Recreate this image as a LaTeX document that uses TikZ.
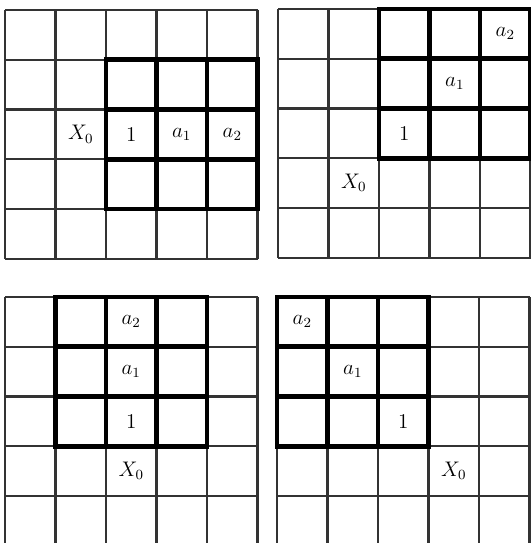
\documentclass[tikz,border=0pt]{standalone}
\begin{document}
\begin{tikzpicture}[x=1.01cm,y=-0.995cm,
			fine/.style={
				draw=black!80,
				line width=1.3pt
			},
			bold/.style={
				draw=black,
				line width=2.6pt,
				line cap=rect
			},
			lab/.style={
				font=\fontsize{12}{14}\selectfont,
				inner sep=0pt
			}
			]
			\useasboundingbox[fill=white] (0,0) rectangle (10.6cm,-10.86cm);
			%---------------- GRID TOP LEFT ----------------
			\begin{scope}[shift={(0.1cm,-0.2cm)}]
				\foreach \i in {0,...,5} {
					\draw[fine] (\i,0) -- (\i,5);
					\draw[fine] (0,\i) -- (5,\i);
				}
				\foreach \i in {0,...,3} {
					\draw[bold] (2+\i,1) -- (2+\i,4);
					\draw[bold] (2,1+\i) -- (5,1+\i);
				}
				\node[lab] (tl-x0) at (1.5,2.5) {$X_0$};
				\node[lab] (tl-one) at (2.5,2.5) {1};
				\node[lab] (tl-a1) at (3.5,2.5) {$a_1$};
				\node[lab] (tl-a2) at (4.5,2.5) {$a_2$};
			\end{scope}
			%---------------- GRID TOP RIGHT ----------------
			\begin{scope}[shift={(5.56cm,-0.18cm)}]
				\foreach \i in {0,...,5} {
					\draw[fine] (\i,0) -- (\i,5);
					\draw[fine] (0,\i) -- (5,\i);
				}
				\foreach \i in {0,...,3} {
					\draw[bold] (2+\i,0) -- (2+\i,3);
					\draw[bold] (2,\i) -- (5,\i);
				}
				\node[lab] (tr-x0) at (1.5,3.5) {$X_0$};
				\node[lab] (tr-one) at (2.5,2.5) {1};
				\node[lab] (tr-a1) at (3.5,1.5) {$a_1$};
				\node[lab] (tr-a2) at (4.5,0.5) {$a_2$};
			\end{scope}
			%---------------- GRID BOTTOM LEFT ----------------
			\begin{scope}[shift={(0.1cm,-5.94cm)}]
				\foreach \i in {0,...,5} {
					\draw[fine] (\i,0) -- (\i,5);
					\draw[fine] (0,\i) -- (5,\i);
				}
				\foreach \i in {0,...,3} {
					\draw[bold] (1+\i,0) -- (1+\i,3);
					\draw[bold] (1,\i) -- (4,\i);
				}
				\node[lab] (bl-x0) at (2.5,3.5) {$X_0$};
				\node[lab] (bl-one) at (2.5,2.5) {1};
				\node[lab] (bl-a1) at (2.5,1.5) {$a_1$};
				\node[lab] (bl-a2) at (2.5,0.5) {$a_2$};
			\end{scope}
			%---------------- GRID BOTTOM RIGHT ----------------
			\begin{scope}[shift={(5.54cm,-5.94cm)}]
				\foreach \i in {0,...,5} {
					\draw[fine] (\i,0) -- (\i,5);
					\draw[fine] (0,\i) -- (5,\i);
				}
				\foreach \i in {0,...,3} {
					\draw[bold] (\i,0) -- (\i,3);
					\draw[bold] (0,\i) -- (3,\i);
				}
				\node[lab] (br-x0) at (3.5,3.5) {$X_0$};
				\node[lab] (br-one) at (2.5,2.5) {1};
				\node[lab] (br-a1) at (1.5,1.5) {$a_1$};
				\node[lab] (br-a2) at (0.5,0.5) {$a_2$};
			\end{scope}
		\end{tikzpicture}
\end{document}
